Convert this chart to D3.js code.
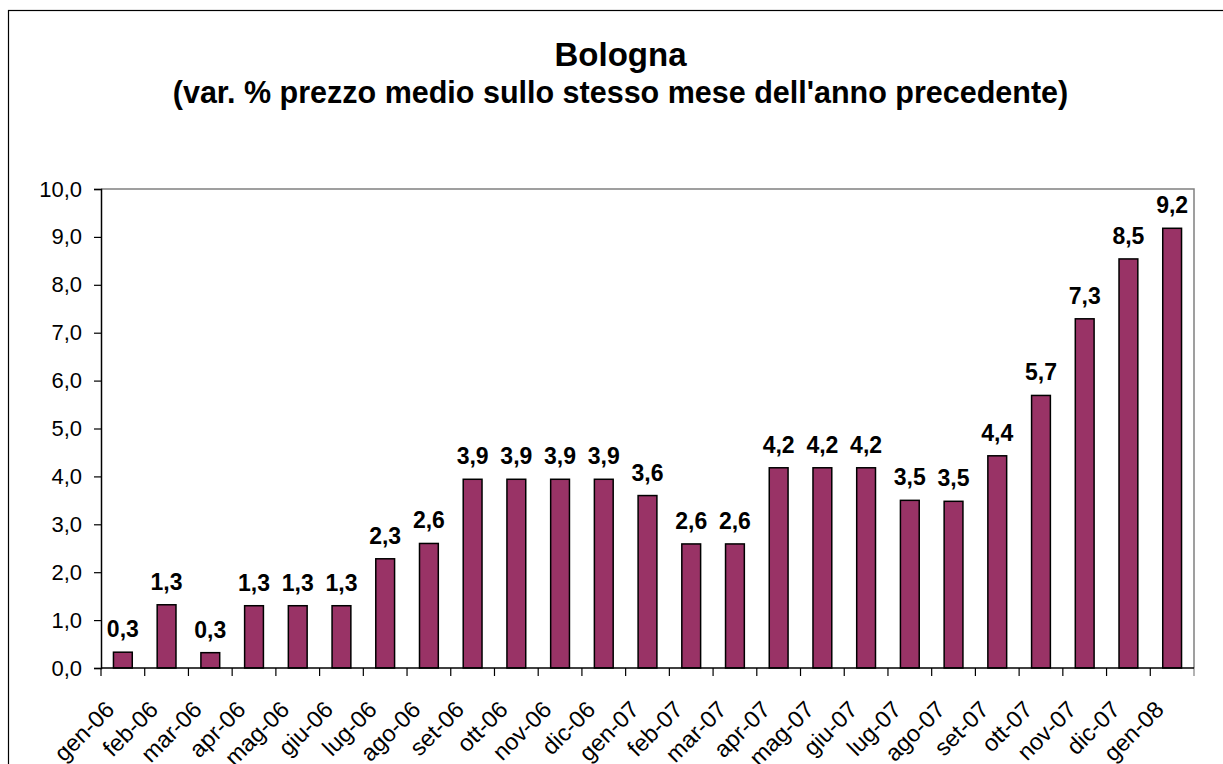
<!DOCTYPE html>
<html>
<head>
<meta charset="utf-8">
<script src="https://cdn.jsdelivr.net/npm/d3@7"></script>
<style>
  body { margin: 0; background: #fff; }
  svg { display: block; font-family: Arial, "Liberation Sans", sans-serif; }
</style>
</head>
<body>
<div id="root"></div>
<script>
// Data
const months = ['gen-06', 'feb-06', 'mar-06', 'apr-06', 'mag-06', 'giu-06', 'lug-06', 'ago-06',
  'set-06', 'ott-06', 'nov-06', 'dic-06', 'gen-07', 'feb-07', 'mar-07', 'apr-07', 'mag-07',
  'giu-07', 'lug-07', 'ago-07', 'set-07', 'ott-07', 'nov-07', 'dic-07', 'gen-08'];
const values = [0.33, 1.32, 0.32, 1.3, 1.3, 1.3, 2.28, 2.6, 3.94, 3.94, 3.94, 3.94, 3.6, 2.59,
  2.59, 4.18, 4.18, 4.18, 3.5, 3.48, 4.43, 5.69, 7.29, 8.54, 9.18];
const yTickValues = [0, 1, 2, 3, 4, 5, 6, 7, 8, 9, 10];
const title = 'Bologna';
const subtitle = "(var. % prezzo medio sullo stesso mese dell'anno precedente)";

// Layout
const width = 1223;
const height = 764;
const plot = { left: 101, right: 1194, top: 189, bottom: 668 };
const barColor = '#993366';

const it = d3.formatLocale({ decimal: ',', thousands: '.', grouping: [3], currency: ['', '€'] });
const fmt = it.format('.1f');

const svg = d3.select('#root')
  .append('svg')
  .attr('width', width)
  .attr('height', height);

// Outer chart border (runs off the right and bottom edges)
svg.append('rect')
  .attr('x', 8.5)
  .attr('y', 10.5)
  .attr('width', 1240)
  .attr('height', 800)
  .attr('fill', 'none')
  .attr('stroke', '#000')
  .attr('stroke-width', 1.2);

// Titles
svg.append('text')
  .attr('x', 620.5)
  .attr('y', 66)
  .attr('text-anchor', 'middle')
  .style('font-weight', 'bold')
  .style('font-size', '33px')
  .text(title);

svg.append('text')
  .attr('x', 620.5)
  .attr('y', 103)
  .attr('text-anchor', 'middle')
  .style('font-weight', 'bold')
  .style('font-size', '30.5px')
  .text(subtitle);

// Scales
const x = d3.scaleBand()
  .domain(months)
  .range([plot.left, plot.right])
  .paddingInner(0.57)
  .paddingOuter(0.285);

const step = x.step();

const y = d3.scaleLinear()
  .domain([0, 10])
  .range([plot.bottom, plot.top]);

// Plot area frame: grey top and right
svg.append('path')
  .attr('d', `M${plot.left},${plot.top}H${plot.right}V${plot.bottom}`)
  .attr('fill', 'none')
  .attr('stroke', '#808080')
  .attr('stroke-width', 1.5);

// Bars
svg.append('g')
  .selectAll('rect')
  .data(values)
  .enter()
    .append('rect')
    .attr('x', (d, i) => x(months[i]))
    .attr('y', d => y(d))
    .attr('width', x.bandwidth())
    .attr('height', d => y(0) - y(d))
    .attr('fill', barColor)
    .attr('stroke', '#000')
    .attr('stroke-width', 1.5);

// Value labels
svg.append('g')
  .selectAll('text')
  .data(values)
  .enter()
    .append('text')
    .attr('x', (d, i) => x(months[i]) + x.bandwidth() / 2)
    .attr('y', d => y(d) - 15)
    .attr('text-anchor', 'middle')
    .style('font-weight', 'bold')
    .style('font-size', '23px')
    .text(d => fmt(d));

// Y axis
const yAxis = svg.append('g')
  .attr('transform', `translate(${plot.left},0)`)
  .call(d3.axisLeft(y)
    .tickValues(yTickValues)
    .tickSize(7)
    .tickPadding(12)
    .tickFormat(d => fmt(d)));

yAxis.select('.domain').attr('stroke', '#000').attr('stroke-width', 1.5);
yAxis.selectAll('.tick line').attr('stroke', '#000').attr('stroke-width', 1.2);
yAxis.selectAll('.tick text')
  .style('font-size', '22px')
  .style('font-family', 'Arial, "Liberation Sans", sans-serif')
  .attr('fill', '#000');

// X axis: ticks on category boundaries
const xAxis = svg.append('g');

xAxis.selectAll('line.boundary')
  .data(months.concat(['end']))
  .enter()
    .append('line')
    .attr('class', 'boundary')
    .attr('x1', (d, i) => plot.left + i * step)
    .attr('x2', (d, i) => plot.left + i * step)
    .attr('y1', plot.bottom)
    .attr('y2', plot.bottom + 8)
    .attr('stroke', (d, i) => i === months.length ? '#808080' : '#000')
    .attr('stroke-width', 1.2);

xAxis.append('line')
  .attr('x1', plot.left)
  .attr('x2', plot.right)
  .attr('y1', plot.bottom)
  .attr('y2', plot.bottom)
  .attr('stroke', '#000')
  .attr('stroke-width', 1.5);

xAxis.selectAll('text')
  .data(months)
  .enter()
    .append('text')
    .attr('transform', d => `translate(${x(d) + x.bandwidth() / 2 - 7},${plot.bottom + 43}) rotate(-45)`)
    .attr('text-anchor', 'end')
    .style('font-size', '23.5px')
    .text(d => d);
</script>
</body>
</html>
